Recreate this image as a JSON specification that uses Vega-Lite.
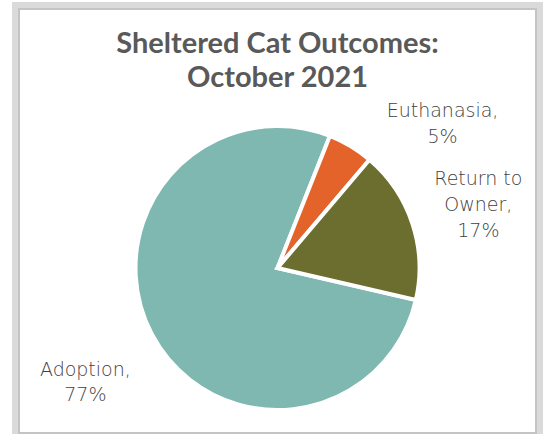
{
  "$schema": "https://vega.github.io/schema/vega-lite/v6.json",
  "autosize": "none",
  "padding": {"left": 19, "right": 11, "top": 9, "bottom": 1},
  "width": 517,
  "height": 424,
  "background": "white",
  "title": {
    "text": ["Sheltered Cat Outcomes:", "October 2021"],
    "font": "Lato",
    "fontSize": 29,
    "fontWeight": "bold",
    "color": "#595959",
    "lineHeight": 34,
    "anchor": "middle",
    "offset": -91
  },
  "data": {
    "values": [
      {"outcome": "Adoption", "share": 77.4, "label": "Adoption,\n77%"},
      {"outcome": "Euthanasia", "share": 5.2, "label": "Euthanasia,\n5%"},
      {"outcome": "Return to Owner", "share": 17.4, "label": "Return to\nOwner,\n17%"}
    ]
  },
  "layer": [
    {
      "data": {"values": [{"frame": "shadow"}]},
      "mark": {"type": "rect", "fill": null, "stroke": "#dadada", "strokeWidth": 14}
    },
    {
      "data": {"values": [{"frame": "chart area"}]},
      "mark": {"type": "rect", "fill": "white", "stroke": "#c4c4c4", "strokeWidth": 2}
    },
    {
      "mark": {"type": "arc", "outerRadius": 142, "stroke": "white", "strokeWidth": 4, "yOffset": 47},
      "encoding": {
        "theta": {"field": "share", "type": "quantitative", "stack": true, "scale": {"range": [1.7977, 8.0809]}},
        "color": {
          "field": "outcome",
          "type": "nominal",
          "scale": {"domain": ["Adoption", "Euthanasia", "Return to Owner"], "range": ["#7eb8b0", "#e3632a", "#6b6e2e"]},
          "legend": null
        }
      }
    },
    {
      "mark": {"type": "text", "radius": 200, "yOffset": 47, "dx": -15, "dy": 9, "font": "DejaVu Sans", "fontWeight": 200, "fontSize": 19, "lineHeight": 25, "lineBreak": "\n", "align": "center", "baseline": "middle"},
      "encoding": {
        "theta": {"field": "share", "type": "quantitative", "stack": true},
        "order": {"field": "outcome"},
        "text": {"condition": {"test": "datum.outcome === 'Adoption'", "field": "label"}, "value": ""},
        "color": {"value": "#3f3f3f"}
      }
    },
    {
      "mark": {"type": "text", "radius": 200, "yOffset": 47, "dx": 62, "dy": 14, "font": "DejaVu Sans", "fontWeight": 200, "fontSize": 19, "lineHeight": 26, "lineBreak": "\n", "align": "center", "baseline": "middle"},
      "encoding": {
        "theta": {"field": "share", "type": "quantitative", "stack": true},
        "order": {"field": "outcome"},
        "text": {"condition": {"test": "datum.outcome === 'Euthanasia'", "field": "label"}, "value": ""},
        "color": {"value": "#3f3f3f"}
      }
    },
    {
      "mark": {"type": "text", "radius": 200, "yOffset": 47, "dx": 11, "dy": -26, "font": "DejaVu Sans", "fontWeight": 200, "fontSize": 19, "lineHeight": 26, "lineBreak": "\n", "align": "center", "baseline": "middle"},
      "encoding": {
        "theta": {"field": "share", "type": "quantitative", "stack": true},
        "order": {"field": "outcome"},
        "text": {"condition": {"test": "datum.outcome === 'Return to Owner'", "field": "label"}, "value": ""},
        "color": {"value": "#3f3f3f"}
      }
    }
  ]
}
